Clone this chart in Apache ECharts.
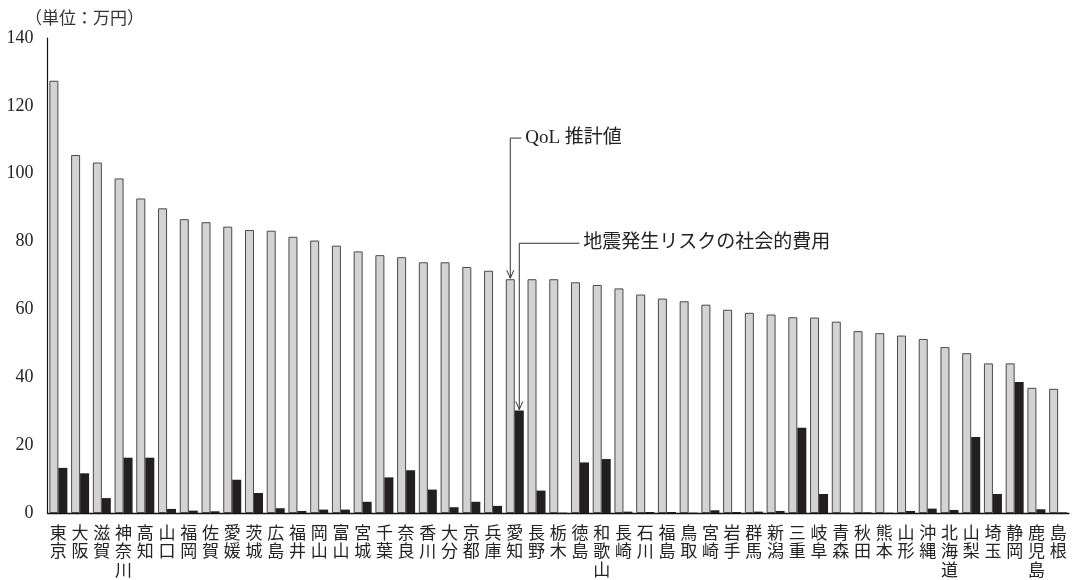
<!DOCTYPE html>
<html>
<head>
<meta charset="utf-8">
<script src="https://cdn.jsdelivr.net/npm/echarts@6/dist/echarts.min.js"></script>
<style>
  html, body { margin: 0; padding: 0; background: #fff; }
  #chart { width: 1074px; height: 580px; }
</style>
</head>
<body>
<div id="chart"></div>
<script>
// 都道府県別 QoL 推計値と地震発生リスクの社会的費用（万円）
const prefectures = ['東京','大阪','滋賀','神奈川','高知','山口','福岡','佐賀','愛媛','茨城',
  '広島','福井','岡山','富山','宮城','千葉','奈良','香川','大分','京都',
  '兵庫','愛知','長野','栃木','徳島','和歌山','長崎','石川','福島','鳥取',
  '宮崎','岩手','群馬','新潟','三重','岐阜','青森','秋田','熊本','山形',
  '沖縄','北海道','山梨','埼玉','静岡','鹿児島','島根'];

const qolValues = [127.4,105.5,103.3,98.6,92.7,89.8,86.6,85.7,84.4,83.4,
  83.2,81.4,80.3,78.8,77.1,76.0,75.4,73.9,73.9,72.5,
  71.4,68.9,68.9,68.9,68.0,67.2,66.2,64.4,63.2,62.4,
  61.4,59.9,59.0,58.5,57.7,57.6,56.4,53.6,53.0,52.3,
  51.3,48.9,47.1,44.1,44.1,36.9,36.6];

const quakeCostValues = [13.3,11.7,4.4,16.3,16.3,1.2,0.7,0.5,9.8,5.9,
  1.4,0.6,1.0,1.0,3.3,10.5,12.6,6.9,1.7,3.3,
  2.1,30.2,6.6,0.1,14.9,15.9,0.4,0.3,0.3,0.1,
  0.8,0.3,0.4,0.6,25.1,5.6,0.1,0.2,0.1,0.6,
  1.3,0.9,22.4,5.6,38.6,1.1,0.2];

const yTicks = { min: 0, max: 140, interval: 20 };

const unitLabel = '（単位：万円）';
const qolLabel = 'QoL 推計値';
const quakeLabel = '地震発生リスクの社会的費用';
// annotation callouts: target category and the value level of each label
const calloutIndex = prefectures.indexOf('愛知');
const qolLabelLevel = 110.5;
const quakeLabelLevel = 79.5;

const serif = '"Liberation Serif", "Noto Sans CJK JP", serif';
const cjk = '"Noto Sans CJK JP", sans-serif';
const BAR_W = 9;

const chart = echarts.init(document.getElementById('chart'), null, { renderer: 'canvas' });

chart.setOption({
  animation: false,
  backgroundColor: '#ffffff',
  title: {
    text: unitLabel,
    left: 20, top: 4,
    textStyle: { fontFamily: cjk, fontSize: 17, fontWeight: 'normal', color: '#333' }
  },
  grid: { left: 47.5, right: 5, top: 38, bottom: 67, containLabel: false },
  xAxis: {
    type: 'category',
    data: prefectures,
    boundaryGap: true,
    axisLine: { show: true, lineStyle: { color: '#111', width: 1.4 } },
    axisTick: { show: false },
    axisLabel: {
      interval: 0,
      margin: 10,
      fontFamily: cjk,
      fontSize: 17,
      lineHeight: 18.5,
      color: '#222',
      verticalAlign: 'top',
      formatter: v => v.split('').join('\n')
    },
    splitLine: { show: false }
  },
  yAxis: {
    type: 'value',
    min: yTicks.min, max: yTicks.max, interval: yTicks.interval,
    axisLine: { show: true, lineStyle: { color: '#111', width: 1.2 } },
    axisTick: { show: false },
    splitLine: { show: false },
    axisLabel: { margin: 14, fontFamily: serif, fontSize: 18, color: '#222' }
  },
  series: [
    {
      name: qolLabel,
      type: 'bar',
      data: qolValues,
      barWidth: BAR_W,
      barGap: '0%',
      itemStyle: { color: '#d3d3d3', borderColor: '#4a4a4a', borderWidth: 1 }
    },
    {
      name: quakeLabel,
      type: 'bar',
      data: quakeCostValues,
      barWidth: BAR_W,
      barGap: '0%',
      itemStyle: { color: '#231f20' }
    }
  ]
});

// callout lines with open arrowheads pointing at the 愛知 bars
function callout(seriesIndex, values, offsetX, level, label, textGap) {
  const top = chart.convertToPixel({ seriesIndex }, [calloutIndex, values[calloutIndex]]);
  const lab = chart.convertToPixel({ seriesIndex }, [calloutIndex, level]);
  const x = top[0] + offsetX;
  const tipY = top[1] - 1;
  const y0 = lab[1];
  const lineStyle = { stroke: '#333', lineWidth: 1, fill: null };
  return [
    { type: 'polyline', silent: true, z: 100,
      shape: { points: [[x + textGap, y0], [x, y0], [x, tipY]] }, style: lineStyle },
    { type: 'polyline', silent: true, z: 100,
      shape: { points: [[x - 3.5, tipY - 8], [x, tipY], [x + 3.5, tipY - 8]] }, style: lineStyle },
    { type: 'text', silent: true, z: 100,
      style: { text: label, x: x + textGap + 4, y: y0, verticalAlign: 'middle',
               font: '19px ' + serif, fill: '#222' } }
  ];
}

chart.setOption({
  graphic: [].concat(
    callout(0, qolValues, -BAR_W / 2, qolLabelLevel, qolLabel, 11),
    callout(1, quakeCostValues, BAR_W / 2, quakeLabelLevel, quakeLabel, 60)
  )
});
</script>
</body>
</html>
